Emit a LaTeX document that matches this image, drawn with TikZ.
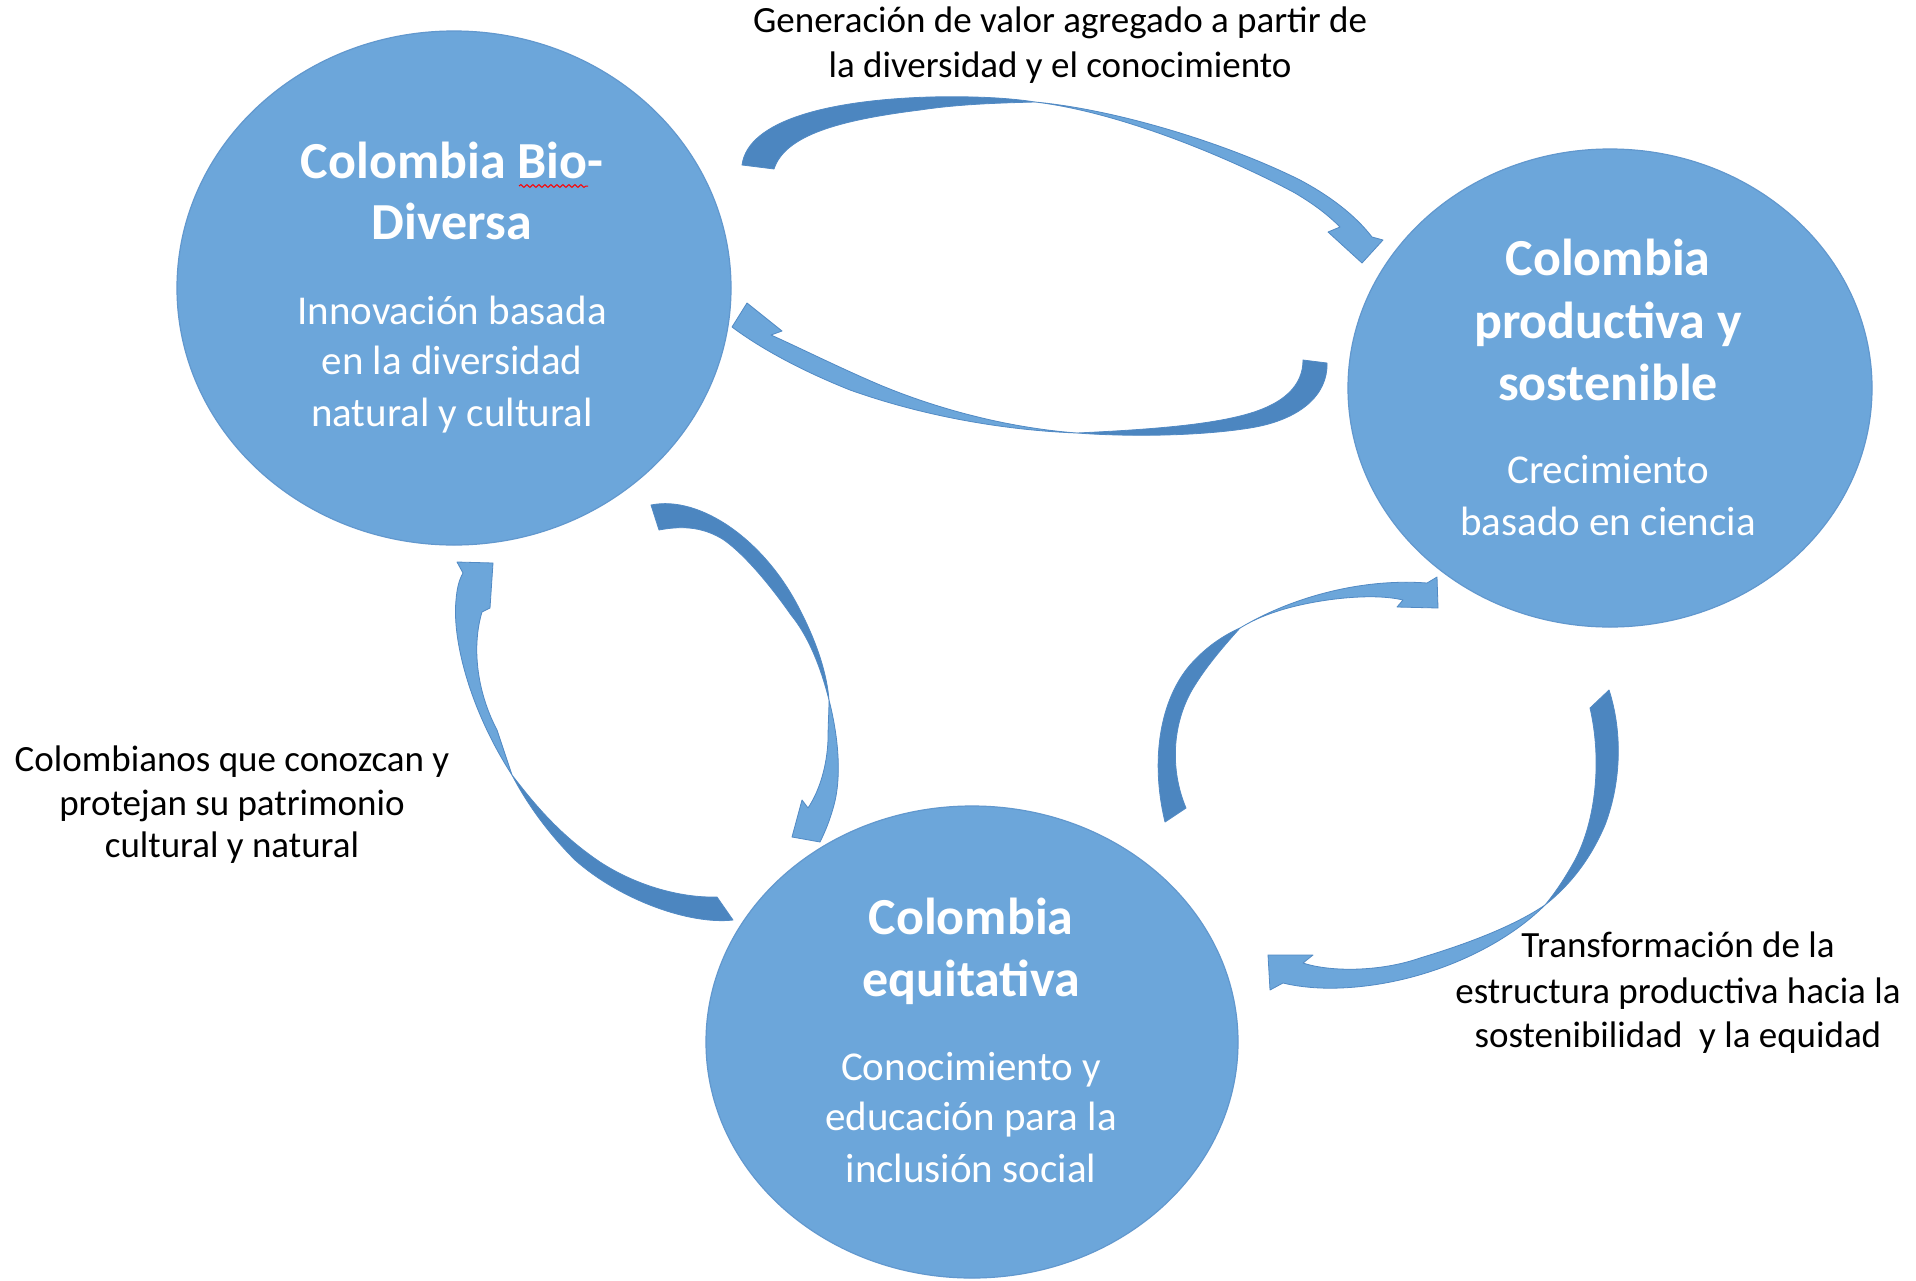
\documentclass[tikz,border=0pt]{standalone}
\usepackage{fontspec}
\setmainfont{Carlito}
\usetikzlibrary{shapes.geometric,decorations.pathmorphing}
\definecolor{circfill}{RGB}{108,166,218}
\definecolor{circline}{RGB}{98,152,206}
\definecolor{arrlight}{RGB}{108,166,218}
\definecolor{arrdark}{RGB}{76,134,192}
\definecolor{arrline}{RGB}{82,138,196}
\tikzset{
  bubble/.style={ellipse, fill=circfill, draw=circline, line width=0.6pt, inner sep=0pt},
  titletxt/.style={anchor=base, inner sep=0pt, text=white, font=\fontsize{26pt}{31pt}\selectfont\bfseries},
  subtxt/.style={anchor=base, inner sep=0pt, text=white, font=\fontsize{20.5pt}{25pt}\selectfont},
  labeltxt/.style={anchor=base, inner sep=0pt, text=black, font=\fontsize{18.5pt}{22pt}\selectfont},
  arrowlight/.style={fill=arrlight, draw=arrline, line width=0.4pt, line join=round},
  arrowdark/.style={fill=arrdark, draw=arrline, line width=0.4pt, line join=round},
}
\begin{document}
\begin{tikzpicture}[x=0.5pt,y=-0.5pt]
\useasboundingbox (0,0) rectangle (1916,1280);
\fill[white] (0,0) rectangle (1916,1280);

% circles
\node[bubble, minimum width=277pt, minimum height=257pt] (c1) at (454,288) {};
\node[bubble, minimum width=262pt, minimum height=239pt] (c2) at (1610,388) {};
\node[bubble, minimum width=266pt, minimum height=236pt] (c3) at (972,1042) {};

% arrow 1: Bio-Diversa -> productiva (top)
\filldraw[arrowdark] (742,165) .. controls (748,120) and (830,100) .. (930,97) .. controls (975,96) and (1010,98) .. (1035,102) .. controls (1000,103) and (960,104) .. (920,110) .. controls (840,120) and (785,135) .. (774,169) -- cycle;
\filldraw[arrowlight] (1035,102) .. controls (1120,110) and (1230,145) .. (1300,180) .. controls (1330,196) and (1355,215) .. (1372,237) -- (1383,240) -- (1362,263) -- (1328,232) -- (1340,227) .. controls (1325,212) and (1310,202) .. (1295,193) .. controls (1230,158) and (1120,112) .. (1035,102) -- cycle;

% arrow 2: productiva -> Bio-Diversa (middle)
\filldraw[arrowdark] (1327,363) .. controls (1328,395) and (1300,420) .. (1250,428) .. controls (1200,436) and (1130,437) .. (1077,433) .. controls (1140,430) and (1200,426) .. (1240,416) .. controls (1285,405) and (1303,385) .. (1303,360) -- cycle;
\filldraw[arrowlight] (1077,433) .. controls (1000,430) and (920,415) .. (850,390) .. controls (800,370) and (760,348) .. (732,327) -- (747,303) -- (782,331) -- (771,335) .. controls (800,348) and (840,368) .. (880,385) .. controls (940,410) and (1010,428) .. (1077,433) -- cycle;

% arrow 3: Bio-Diversa -> equitativa
\filldraw[arrowdark] (651,505) .. controls (700,495) and (765,540) .. (800,610) .. controls (818,645) and (827,675) .. (829,700) .. controls (822,672) and (810,638) .. (791,615) .. controls (770,585) and (745,555) .. (724,540) .. controls (705,528) and (685,525) .. (659,530) -- cycle;
\filldraw[arrowlight] (829,700) .. controls (838,735) and (842,775) .. (834,805) .. controls (830,820) and (825,832) .. (820,842) -- (792,837) -- (802,800) -- (808,808) .. controls (820,790) and (827,765) .. (828,740) .. controls (828,725) and (829,712) .. (829,700) -- cycle;

% arrow 4: equitativa -> Bio-Diversa
\filldraw[arrowdark] (733,920) .. controls (690,925) and (620,900) .. (575,860) .. controls (545,830) and (525,800) .. (512,775) .. controls (535,805) and (560,835) .. (600,862) .. controls (640,888) and (685,898) .. (717,897) -- cycle;
\filldraw[arrowlight] (512,775) .. controls (470,710) and (452,640) .. (456,600) .. controls (457,588) and (459,580) .. (463,573) -- (457,562) -- (493,563) -- (490,608) -- (482,612) .. controls (472,645) and (476,690) .. (497,730) .. controls (502,745) and (507,760) .. (512,775) -- cycle;

% arrow 5: equitativa -> productiva
\filldraw[arrowdark] (1165,822) .. controls (1150,760) and (1160,700) .. (1190,665) .. controls (1205,648) and (1222,636) .. (1240,628) .. controls (1222,648) and (1205,668) .. (1192,690) .. controls (1172,725) and (1170,770) .. (1186,808) -- cycle;
\filldraw[arrowlight] (1240,628) .. controls (1290,598) and (1360,578) .. (1427,583) -- (1437,577) -- (1438,608) -- (1397,607) -- (1403,600) .. controls (1370,592) and (1310,600) .. (1275,612) .. controls (1260,617) and (1250,622) .. (1240,628) -- cycle;

% arrow 6: productiva -> equitativa
\filldraw[arrowdark] (1590,708) .. controls (1602,760) and (1596,820) .. (1575,860) .. controls (1565,878) and (1555,893) .. (1545,905) .. controls (1570,885) and (1590,860) .. (1605,825) .. controls (1622,780) and (1622,730) .. (1609,690) -- cycle;
\filldraw[arrowlight] (1545,905) .. controls (1500,950) and (1420,985) .. (1340,988) .. controls (1315,989) and (1295,986) .. (1283,983) -- (1270,990) -- (1268,955) -- (1313,955) -- (1303,963) .. controls (1330,972) and (1380,972) .. (1420,958) .. controls (1480,940) and (1520,922) .. (1545,905) -- cycle;

% circle texts
\node[titletxt] (t1a) at (452,178) {Colombia Bio-};
\node[titletxt] (t1b) at (452,239) {Diversa};
\draw[red, line width=0.5pt, decorate, decoration={snake, amplitude=0.7pt, segment length=3pt}] (519,186) -- (588,186);
\node[subtxt] (s1a) at (452,324) {Innovación basada};
\node[subtxt] (s1b) at (452,374) {en la diversidad};
\node[subtxt] (s1c) at (452,426) {natural y cultural};

\node[titletxt] (t2a) at (1608,275) {Colombia};
\node[titletxt] (t2b) at (1608,338) {productiva y};
\node[titletxt] (t2c) at (1608,400) {sostenible};
\node[subtxt] (s2a) at (1608,483) {Crecimiento};
\node[subtxt] (s2b) at (1608,535) {basado en ciencia};

\node[titletxt] (t3a) at (971,934) {Colombia};
\node[titletxt] (t3b) at (971,996) {equitativa};
\node[subtxt] (s3a) at (971,1080) {Conocimiento y};
\node[subtxt] (s3b) at (971,1130) {educación para la};
\node[subtxt] (s3c) at (971,1182) {inclusión social};

% labels
\node[labeltxt] (l1a) at (1060,32) {Generación de valor agregado a partir de};
\node[labeltxt] (l1b) at (1060,77) {la diversidad y el conocimiento};
\node[labeltxt] (l2a) at (232,771) {Colombianos que conozcan y};
\node[labeltxt] (l2b) at (232,815) {protejan su patrimonio};
\node[labeltxt] (l2c) at (232,857) {cultural y natural};
\node[labeltxt] (l3a) at (1678,957) {Transformación de la};
\node[labeltxt] (l3b) at (1678,1003) {estructura productiva hacia la};
\node[labeltxt] (l3c) at (1678,1047) {sostenibilidad\ \ y la equidad};
\end{tikzpicture}
\end{document}
